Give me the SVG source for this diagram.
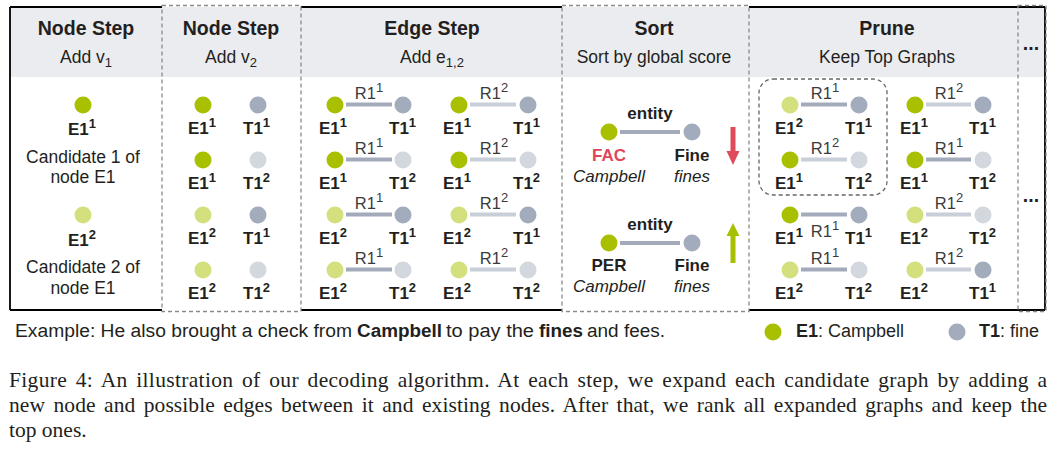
<svg xmlns="http://www.w3.org/2000/svg" width="1057" height="453" viewBox="0 0 1057 453">
<style>
text{font-family:"Liberation Sans",Arial,Helvetica,sans-serif;fill:#231f20}
.hd{font-weight:bold;font-size:19.5px;text-anchor:middle}
.sb{font-size:17.5px;text-anchor:middle}
.lb{font-weight:bold;font-size:17px}
.rl{font-size:16.5px;text-anchor:middle;fill:#3a3a3a}
.sp{font-size:13px}
.ct{font-size:17.5px;text-anchor:middle}
.en{font-weight:bold;font-size:17px;text-anchor:middle}
.it{font-style:italic;font-size:17px;text-anchor:middle}
.eD{fill:#a8c000}.eL{fill:#d3e07d}.tD{fill:#a3acbc}.tL{fill:#d3d7de}
.lD{stroke:#a3abbb;stroke-width:4}.lL{stroke:#c8cfd8;stroke-width:4}
.bd{stroke:#000;stroke-width:1.8;fill:none}
.ds{stroke:#8a8a8a;stroke-width:1.3;stroke-dasharray:4 3;fill:none}
.cap{font-family:"Liberation Serif","Times New Roman",serif;font-size:21.5px}
.ex{font-size:18px}
</style>
<rect x="0" y="0" width="1057" height="453" fill="#fff"/>
<g id="frame">
<rect x="10" y="7" width="1035" height="70" fill="#ebecf0"/>
<path class="bd" d="M10 7V310M1045 7V310M10 7H162M301 7H562M749 7H1045M10 310H162M301 310H562M749 310H1045"/>
<rect class="ds" x="162" y="5.5" width="139" height="306"/>
<rect class="ds" x="562" y="5.5" width="187" height="306"/>
<rect class="ds" x="1018" y="5.5" width="28" height="306"/>
</g>
<g id="header">
<text class="hd" x="86" y="35">Node Step</text>
<text class="sb" x="86" y="63">Add v<tspan class="sp" dy="4">1</tspan></text>
<text class="hd" x="231" y="35">Node Step</text>
<text class="sb" x="231" y="63">Add v<tspan class="sp" dy="4">2</tspan></text>
<text class="hd" x="432" y="35">Edge Step</text>
<text class="sb" x="432" y="63">Add e<tspan class="sp" dy="4">1,2</tspan></text>
<text class="hd" x="654" y="35">Sort</text>
<text class="sb" x="654" y="63">Sort by global score</text>
<text class="hd" x="887" y="35">Prune</text>
<text class="sb" x="887" y="63">Keep Top Graphs</text>
<text class="hd" x="1031" y="50">...</text>
<text class="hd" x="1031" y="202">...</text>
</g>
<g id="connectors">
<path class="lD" d="M346 104.5H392M346 159.5H392M346 214.5H392M346 269.5H392"/>
<path class="lL" d="M470 104.5H516M470 159.5H516M470 214.5H516M470 269.5H516"/>
<path class="lD" d="M620 132H680M620 243H680"/>
<path class="lD" d="M801 104.5H847M926 159.5H971M801 214.5H847M801 269.5H847"/>
<path class="lL" d="M926 104.5H971M801 159.5H847M926 214.5H971M926 269.5H971"/>
<polygon points="730.5,127 735.5,127 735.5,151 739.5,151 733,165 726.5,151 730.5,151" fill="#e04b5c"/>
<polygon points="733,223 739.5,236 735.5,236 735.5,263 730.5,263 730.5,236 726.5,236" fill="#a8c000"/>
<g id="edge-labels">
<text class="rl" x="369" y="98.5">R1<tspan class="sp" dy="-7">1</tspan></text>
<text class="rl" x="369" y="153.5">R1<tspan class="sp" dy="-7">1</tspan></text>
<text class="rl" x="369" y="208.5">R1<tspan class="sp" dy="-7">1</tspan></text>
<text class="rl" x="369" y="263.5">R1<tspan class="sp" dy="-7">1</tspan></text>
<text class="rl" x="494" y="98.5">R1<tspan class="sp" dy="-7">2</tspan></text>
<text class="rl" x="494" y="153.5">R1<tspan class="sp" dy="-7">2</tspan></text>
<text class="rl" x="494" y="208.5">R1<tspan class="sp" dy="-7">2</tspan></text>
<text class="rl" x="494" y="263.5">R1<tspan class="sp" dy="-7">2</tspan></text>
<text class="en" x="650" y="119">entity</text>
<text class="en" x="650" y="230">entity</text>
<text class="rl" x="825" y="98.5">R1<tspan class="sp" dy="-7">1</tspan></text>
<text class="rl" x="949" y="98.5">R1<tspan class="sp" dy="-7">2</tspan></text>
<text class="rl" x="825" y="153.5">R1<tspan class="sp" dy="-7">2</tspan></text>
<text class="rl" x="949" y="153.5">R1<tspan class="sp" dy="-7">1</tspan></text>
<text class="rl" x="825" y="237">R1<tspan class="sp" dy="-7">1</tspan></text>
<text class="rl" x="949" y="208.5">R1<tspan class="sp" dy="-7">2</tspan></text>
<text class="rl" x="825" y="263.5">R1<tspan class="sp" dy="-7">1</tspan></text>
<text class="rl" x="949" y="263.5">R1<tspan class="sp" dy="-7">2</tspan></text>
</g>
</g>
<g id="col1">
<g id="c1-e11"><circle class="eD" cx="83" cy="105" r="8.5"/><text class="lb" x="68" y="135">E1<tspan class="sp" dy="-7">1</tspan></text></g>
<text class="ct" x="83" y="163">Candidate 1 of</text>
<text class="ct" x="83" y="183">node E1</text>
<g id="c1-e12"><circle class="eL" cx="83" cy="215" r="8.5"/><text class="lb" x="68" y="246">E1<tspan class="sp" dy="-7">2</tspan></text></g>
<text class="ct" x="83" y="273">Candidate 2 of</text>
<text class="ct" x="83" y="294">node E1</text>
</g>
<g id="col2">
<g id="c2-r1"><circle class="eD" cx="203" cy="105" r="8.5"/><circle class="tD" cx="258" cy="105" r="8.5"/><text class="lb" x="188" y="133.5">E1<tspan class="sp" dy="-7">1</tspan></text><text class="lb" x="243" y="133.5">T1<tspan class="sp" dy="-7">1</tspan></text></g>
<g id="c2-r2"><circle class="eD" cx="203" cy="160" r="8.5"/><circle class="tL" cx="258" cy="160" r="8.5"/><text class="lb" x="188" y="188.5">E1<tspan class="sp" dy="-7">1</tspan></text><text class="lb" x="243" y="188.5">T1<tspan class="sp" dy="-7">2</tspan></text></g>
<g id="c2-r3"><circle class="eL" cx="203" cy="215" r="8.5"/><circle class="tD" cx="258" cy="215" r="8.5"/><text class="lb" x="188" y="243.5">E1<tspan class="sp" dy="-7">2</tspan></text><text class="lb" x="243" y="243.5">T1<tspan class="sp" dy="-7">1</tspan></text></g>
<g id="c2-r4"><circle class="eL" cx="203" cy="270" r="8.5"/><circle class="tL" cx="258" cy="270" r="8.5"/><text class="lb" x="188" y="298.5">E1<tspan class="sp" dy="-7">2</tspan></text><text class="lb" x="243" y="298.5">T1<tspan class="sp" dy="-7">2</tspan></text></g>
</g>
<g id="col3">
<g id="c3-l1"><circle class="eD" cx="335" cy="105" r="8.5"/><circle class="tD" cx="403" cy="105" r="8.5"/><text class="lb" x="319" y="133.5">E1<tspan class="sp" dy="-7">1</tspan></text><text class="lb" x="389" y="133.5">T1<tspan class="sp" dy="-7">1</tspan></text></g>
<g id="c3-l2"><circle class="eD" cx="335" cy="160" r="8.5"/><circle class="tL" cx="403" cy="160" r="8.5"/><text class="lb" x="319" y="188.5">E1<tspan class="sp" dy="-7">1</tspan></text><text class="lb" x="389" y="188.5">T1<tspan class="sp" dy="-7">2</tspan></text></g>
<g id="c3-l3"><circle class="eL" cx="335" cy="215" r="8.5"/><circle class="tD" cx="403" cy="215" r="8.5"/><text class="lb" x="319" y="243.5">E1<tspan class="sp" dy="-7">2</tspan></text><text class="lb" x="389" y="243.5">T1<tspan class="sp" dy="-7">1</tspan></text></g>
<g id="c3-l4"><circle class="eL" cx="335" cy="270" r="8.5"/><circle class="tL" cx="403" cy="270" r="8.5"/><text class="lb" x="319" y="298.5">E1<tspan class="sp" dy="-7">2</tspan></text><text class="lb" x="389" y="298.5">T1<tspan class="sp" dy="-7">2</tspan></text></g>
<g id="c3-r1"><circle class="eD" cx="459" cy="105" r="8.5"/><circle class="tD" cx="528" cy="105" r="8.5"/><text class="lb" x="443" y="133.5">E1<tspan class="sp" dy="-7">1</tspan></text><text class="lb" x="513" y="133.5">T1<tspan class="sp" dy="-7">1</tspan></text></g>
<g id="c3-r2"><circle class="eD" cx="459" cy="160" r="8.5"/><circle class="tL" cx="528" cy="160" r="8.5"/><text class="lb" x="443" y="188.5">E1<tspan class="sp" dy="-7">1</tspan></text><text class="lb" x="513" y="188.5">T1<tspan class="sp" dy="-7">2</tspan></text></g>
<g id="c3-r3"><circle class="eL" cx="459" cy="215" r="8.5"/><circle class="tD" cx="528" cy="215" r="8.5"/><text class="lb" x="443" y="243.5">E1<tspan class="sp" dy="-7">2</tspan></text><text class="lb" x="513" y="243.5">T1<tspan class="sp" dy="-7">1</tspan></text></g>
<g id="c3-r4"><circle class="eL" cx="459" cy="270" r="8.5"/><circle class="tL" cx="528" cy="270" r="8.5"/><text class="lb" x="443" y="298.5">E1<tspan class="sp" dy="-7">2</tspan></text><text class="lb" x="513" y="298.5">T1<tspan class="sp" dy="-7">2</tspan></text></g>
</g>
<g id="col4">
<g id="s-fac"><circle class="eD" cx="609" cy="132" r="8.5"/><text class="en" x="609" y="161" style="fill:#e0465a">FAC</text><text class="it" x="609" y="182">Campbell</text></g>
<g id="s-fine1"><circle class="tD" cx="692" cy="132" r="8.5"/><text class="en" x="692" y="161">Fine</text><text class="it" x="692" y="182">fines</text></g>
<g id="s-per"><circle class="eD" cx="609" cy="243" r="8.5"/><text class="en" x="609" y="271">PER</text><text class="it" x="609" y="292">Campbell</text></g>
<g id="s-fine2"><circle class="tD" cx="692" cy="243" r="8.5"/><text class="en" x="692" y="271">Fine</text><text class="it" x="692" y="292">fines</text></g>
</g>
<g id="col5">
<rect class="ds" x="759" y="79" width="128" height="116" rx="14" style="stroke:#666"/>
<g id="p-l1"><circle class="eL" cx="790" cy="105" r="8.5"/><circle class="tD" cx="859" cy="105" r="8.5"/><text class="lb" x="775" y="133.5">E1<tspan class="sp" dy="-7">2</tspan></text><text class="lb" x="845" y="133.5">T1<tspan class="sp" dy="-7">1</tspan></text></g>
<g id="p-l2"><circle class="eD" cx="790" cy="160" r="8.5"/><circle class="tL" cx="859" cy="160" r="8.5"/><text class="lb" x="775" y="188.5">E1<tspan class="sp" dy="-7">1</tspan></text><text class="lb" x="845" y="188.5">T1<tspan class="sp" dy="-7">2</tspan></text></g>
<g id="p-l3"><circle class="eD" cx="790" cy="215" r="8.5"/><circle class="tD" cx="859" cy="215" r="8.5"/><text class="lb" x="775" y="243.5">E1<tspan class="sp" dy="-7">1</tspan></text><text class="lb" x="845" y="243.5">T1<tspan class="sp" dy="-7">1</tspan></text></g>
<g id="p-l4"><circle class="eL" cx="790" cy="270" r="8.5"/><circle class="tL" cx="859" cy="270" r="8.5"/><text class="lb" x="775" y="298.5">E1<tspan class="sp" dy="-7">2</tspan></text><text class="lb" x="845" y="298.5">T1<tspan class="sp" dy="-7">2</tspan></text></g>
<g id="p-r1"><circle class="eD" cx="915" cy="105" r="8.5"/><circle class="tD" cx="983" cy="105" r="8.5"/><text class="lb" x="900" y="133.5">E1<tspan class="sp" dy="-7">1</tspan></text><text class="lb" x="969" y="133.5">T1<tspan class="sp" dy="-7">1</tspan></text></g>
<g id="p-r2"><circle class="eD" cx="915" cy="160" r="8.5"/><circle class="tL" cx="983" cy="160" r="8.5"/><text class="lb" x="900" y="188.5">E1<tspan class="sp" dy="-7">1</tspan></text><text class="lb" x="969" y="188.5">T1<tspan class="sp" dy="-7">2</tspan></text></g>
<g id="p-r3"><circle class="eL" cx="915" cy="215" r="8.5"/><circle class="tL" cx="983" cy="215" r="8.5"/><text class="lb" x="900" y="243.5">E1<tspan class="sp" dy="-7">2</tspan></text><text class="lb" x="969" y="243.5">T1<tspan class="sp" dy="-7">2</tspan></text></g>
<g id="p-r4"><circle class="eL" cx="915" cy="270" r="8.5"/><circle class="tD" cx="983" cy="270" r="8.5"/><text class="lb" x="900" y="298.5">E1<tspan class="sp" dy="-7">2</tspan></text><text class="lb" x="969" y="298.5">T1<tspan class="sp" dy="-7">1</tspan></text></g>
</g>
<g id="example">
<text class="ex" x="15" y="337" textLength="337" lengthAdjust="spacingAndGlyphs">Example: He also brought a check from</text>
<text class="ex" x="357" y="337" font-weight="bold" textLength="85" lengthAdjust="spacingAndGlyphs">Campbell</text>
<text class="ex" x="446" y="337" textLength="88" lengthAdjust="spacingAndGlyphs">to pay the</text>
<text class="ex" x="539" y="337" font-weight="bold" textLength="44" lengthAdjust="spacingAndGlyphs">fines</text>
<text class="ex" x="587" y="337" textLength="78" lengthAdjust="spacingAndGlyphs">and fees.</text>
</g>
<g id="legend">
<circle class="eD" cx="773" cy="332" r="8.5"/>
<text class="ex" x="796" y="337"><tspan font-weight="bold">E1</tspan>: Campbell</text>
<circle class="tD" cx="957" cy="332" r="8.5"/>
<text class="ex" x="979" y="337"><tspan font-weight="bold">T1</tspan>: fine</text>
</g>
<g id="caption">
<text class="cap" x="9" y="387" word-spacing="3" textLength="1038" lengthAdjust="spacing">Figure 4: An illustration of our decoding algorithm. At each step, we expand each candidate graph by adding a</text>
<text class="cap" x="9" y="412" word-spacing="3" textLength="1038" lengthAdjust="spacing">new node and possible edges between it and existing nodes. After that, we rank all expanded graphs and keep the</text>
<text class="cap" x="9" y="437">top ones.</text>
</g>
</svg>
